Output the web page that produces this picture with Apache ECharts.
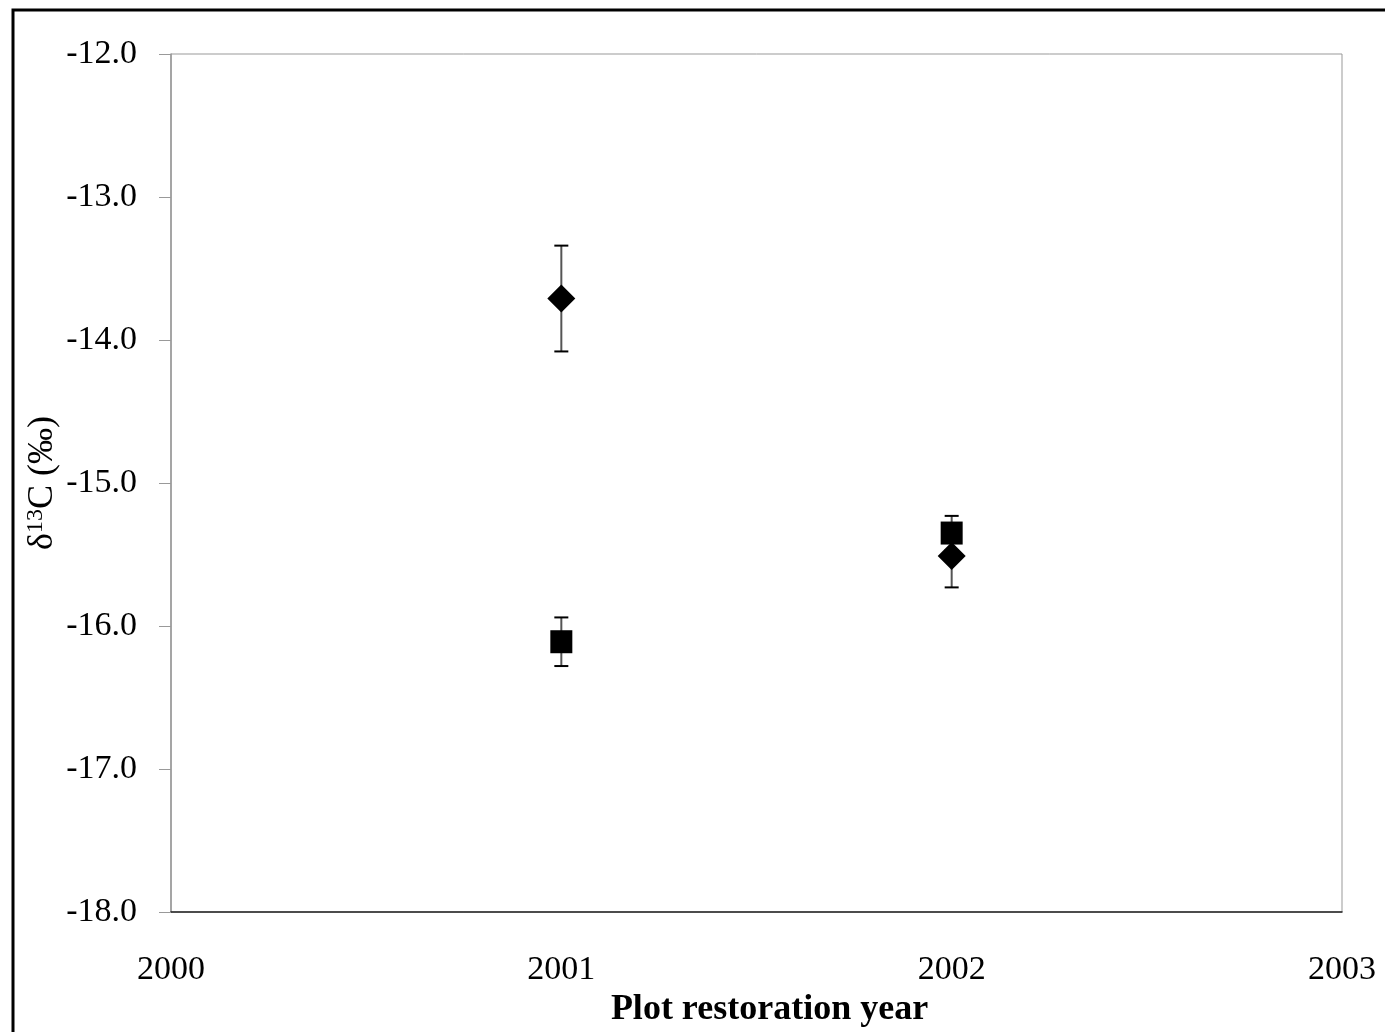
<!DOCTYPE html>
<html>
<head>
<meta charset="utf-8">
<script src="https://cdn.jsdelivr.net/npm/echarts@6/dist/echarts.min.js"></script>
<style>
	html, body { margin: 0; padding: 0; background: #fff; }
	#main { width: 1385px; height: 1032px; }
</style>
</head>
<body>
<div id="main"></div>
<script>
// 数据：年份、均值、误差
var years = [2001, 2002];
var diamondVals = [-13.71, -15.51];
var diamondErr = [0.37, 0.22];
var squareVals = [-16.11, -15.35];
var squareErr = [0.17, 0.12];
var xTicks = [2000, 2001, 2002, 2003];
var yTicks = [-18, -17, -16, -15, -14, -13, -12];

var fontName = '"Liberation Serif", "DejaVu Serif", serif';

function pairs(vals, errs) {
	var out = [];
	for (var i = 0; i < years.length; i++) {
		out.push([years[i], vals[i], errs[i]]);
	}
	return out;
}

// 误差线
function errRender(params, api) {
	var x = api.value(0);
	var y = api.value(1);
	var e = api.value(2);
	var top = api.coord([x, y + e]);
	var bot = api.coord([x, y - e]);
	var half = 7;
	return {
		type : 'group',
		children : [{
			type : 'line',
			shape : { x1 : top[0], y1 : top[1], x2 : bot[0], y2 : bot[1] },
			style : { stroke : '#555', lineWidth : 2 }
		}, {
			type : 'line',
			shape : { x1 : top[0] - half, y1 : top[1], x2 : top[0] + half, y2 : top[1] },
			style : { stroke : '#000', lineWidth : 2 }
		}, {
			type : 'line',
			shape : { x1 : bot[0] - half, y1 : bot[1], x2 : bot[0] + half, y2 : bot[1] },
			style : { stroke : '#000', lineWidth : 2 }
		}]
	};
}

var option = {
	animation : false,
	backgroundColor : '#fff',
	graphic : [{
		type : 'rect',
		shape : { x : 13, y : 10, width : 1500, height : 1200 },
		style : { fill : 'none', stroke : '#000', lineWidth : 3 },
		silent : true
	}],
	grid : {
		left : 171,
		right : 43,
		top : 54,
		bottom : 120,
		outerBoundsMode : 'none',
		containLabel : false,
		show : true,
		borderColor : '#999',
		borderWidth : 1
	},
	xAxis : {
		type : 'value',
		min : 2000,
		max : 2003,
		interval : 1,
		splitLine : { show : false },
		axisTick : { show : false },
		axisLine : { lineStyle : { color : '#222', width : 1.5 } },
		axisLabel : {
			color : '#000',
			fontFamily : fontName,
			fontSize : 34,
			margin : 41,
			showMinLabel : true,
			showMaxLabel : true,
			formatter : function(v) { return String(v); }
		},
		name : 'Plot restoration year',
		nameLocation : 'middle',
		nameGap : 80,
		nameMoveOverlap : false,
		nameTextStyle : {
			color : '#000',
			fontFamily : fontName,
			fontWeight : 'bold',
			fontSize : 36,
			padding : [0, 0, 0, 26]
		}
	},
	yAxis : {
		type : 'value',
		min : -18,
		max : -12,
		interval : 1,
		splitLine : { show : false },
		axisTick : { show : true, inside : false, length : 12, lineStyle : { color : '#999' } },
		axisLine : { show : true, lineStyle : { color : '#999', width : 1.5 } },
		axisLabel : {
			color : '#000',
			fontFamily : fontName,
			fontSize : 34,
			margin : 34,
			formatter : function(v) { return v.toFixed(1); }
		},
		name : 'δ{sup|13}C (‰)',
		nameLocation : 'middle',
		nameGap : 109,
		nameRotate : 90,
		nameMoveOverlap : false,
		nameTextStyle : {
			color : '#000',
			fontFamily : fontName,
			fontSize : 36,
			rich : {
				sup : {
					color : '#000',
					fontFamily : fontName,
					fontSize : 24,
					verticalAlign : 'top',
					padding : [0, 0, 14, 0]
				}
			}
		}
	},
	series : [{
		name : 'err1',
		type : 'custom',
		renderItem : errRender,
		data : pairs(diamondVals, diamondErr),
		z : 1
	}, {
		name : 'err2',
		type : 'custom',
		renderItem : errRender,
		data : pairs(squareVals, squareErr),
		z : 1
	}, {
		name : 'diamond',
		type : 'scatter',
		symbol : 'diamond',
		symbolSize : [28, 28],
		itemStyle : { color : '#000', opacity : 1 },
		data : pairs(diamondVals, diamondErr),
		z : 3
	}, {
		name : 'square',
		type : 'scatter',
		symbol : 'rect',
		symbolSize : [22, 23],
		itemStyle : { color : '#000', opacity : 1 },
		data : pairs(squareVals, squareErr),
		z : 4
	}]
};

var myChart = echarts.init(document.getElementById('main'));
myChart.setOption(option);
</script>
</body>
</html>
